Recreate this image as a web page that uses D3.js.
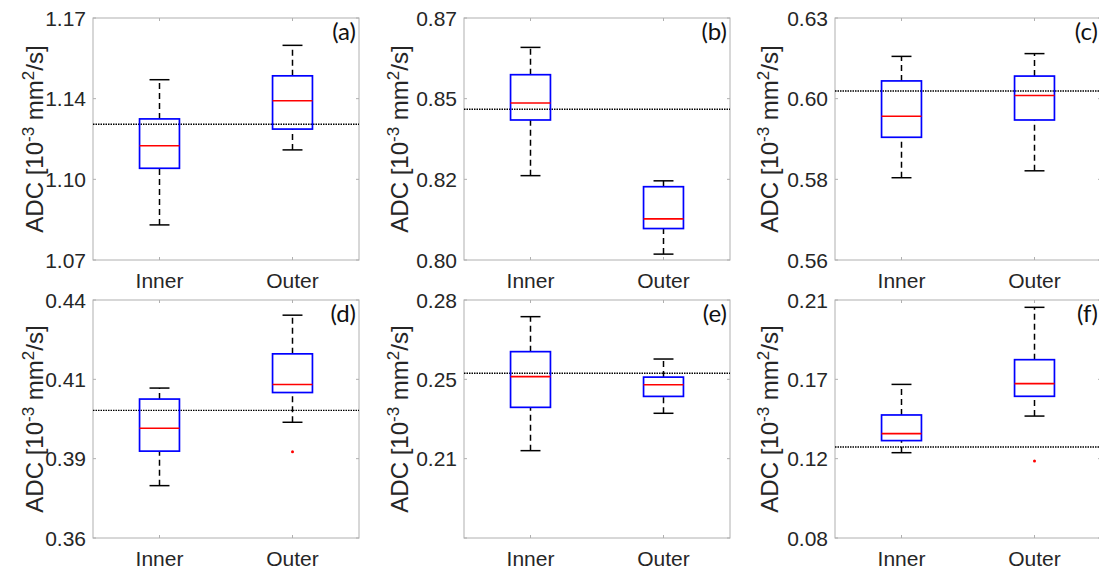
<!DOCTYPE html>
<html>
<head>
<meta charset="utf-8">
<script src="https://cdn.jsdelivr.net/npm/d3@7"></script>
<style>
  body { margin: 0; background: #fff; }
  svg { display: block; }
  .tick-label { font-family: "Liberation Sans", Arial, sans-serif; font-size: 21px; fill: #262626; }
  .y-title { font-family: "Liberation Sans", Arial, sans-serif; font-size: 24px; fill: #262626; }
  .panel-tag { font-family: Lato, "Open Sans", sans-serif; font-size: 24px; fill: #111; }
</style>
</head>
<body>
<svg width="1099" height="571"></svg>
<script>
// values
const panelTags = ["(a)", "(b)", "(c)", "(d)", "(e)", "(f)"];
const categories = ["Inner", "Outer"];

// [lower whisker, q1, median, q3, upper whisker]
const innerStats = [
  [1.0845, 1.1079, 1.1172, 1.1283, 1.1445],
  [0.8244, 0.8405, 0.8454, 0.8536, 0.8615],
  [0.5838, 0.5955, 0.6016, 0.6118, 0.6189],
  [0.3776, 0.3892, 0.3969, 0.4067, 0.4104],
  [0.2167, 0.2349, 0.2478, 0.2583, 0.2730],
  [0.1266, 0.1332, 0.1370, 0.1472, 0.1639]
];
const outerStats = [
  [1.1155, 1.1241, 1.1358, 1.1461, 1.1587],
  [0.8017, 0.8091, 0.8119, 0.8212, 0.8229],
  [0.5858, 0.6005, 0.6076, 0.6132, 0.6197],
  [0.3989, 0.4089, 0.4116, 0.4219, 0.4349],
  [0.2324, 0.2395, 0.2444, 0.2476, 0.2552],
  [0.1466, 0.1574, 0.1643, 0.1774, 0.2060]
];
const innerOutliers = [[], [], [], [], [], []];
const outerOutliers = [[], [], [], [0.389], [], [0.1221]];
const referenceLine = [1.1261, 0.8436, 0.6089, 0.4029, 0.2492, 0.1297];

const yDomains = [
  [1.07, 1.17], [0.80, 0.87], [0.56, 0.63],
  [0.36, 0.44], [0.18, 0.28], [0.08, 0.21]
];
const yTickLabels = [
  ["1.07", "1.10", "1.14", "1.17"],
  ["0.80", "0.82", "0.85", "0.87"],
  ["0.56", "0.58", "0.60", "0.63"],
  ["0.36", "0.39", "0.41", "0.44"],
  ["", "0.21", "0.25", "0.28"],
  ["0.08", "0.12", "0.17", "0.21"]
];

// layout
const plotLeft = [93, 464, 835];
const titleX = [43, 408, 778];
const plotTop = [18, 300];
const plotBottom = [260, 538];
const plotW = 266;
const boxW = 0.3, capW = 0.15;
const axisColor = "#b0b0b0";

const svg = d3.select("svg");
svg.append("rect").attr("width", 1099).attr("height", 571).attr("fill", "#fff");

panelTags.forEach((tag, i) => {
  const col = i % 3, row = Math.floor(i / 3);
  const left = plotLeft[col], top = plotTop[row], bottom = plotBottom[row];
  const g = svg.append("g");

  const x = d3.scaleLinear().domain([0.5, 2.5]).range([left, left + plotW]);
  const [y0, y1] = yDomains[i];
  const y = d3.scaleLinear().domain([y0, y1]).range([bottom, top]);
  const tickVals = d3.range(4).map(k => y0 + k * (y1 - y0) / 3);
  const xPos = categories.map((c, k) => k + 1);

  // frame
  g.append("rect")
    .attr("x", left).attr("y", top)
    .attr("width", plotW).attr("height", bottom - top)
    .attr("fill", "none").attr("stroke", axisColor).attr("stroke-width", 1);

  // inward ticks
  const tl = 3;
  tickVals.forEach(v => {
    g.append("line").attr("x1", left).attr("x2", left + tl)
      .attr("y1", y(v)).attr("y2", y(v)).attr("stroke", axisColor);
    g.append("line").attr("x1", left + plotW).attr("x2", left + plotW - tl)
      .attr("y1", y(v)).attr("y2", y(v)).attr("stroke", axisColor);
  });
  xPos.forEach(p => {
    g.append("line").attr("x1", x(p)).attr("x2", x(p))
      .attr("y1", bottom).attr("y2", bottom - tl).attr("stroke", axisColor);
    g.append("line").attr("x1", x(p)).attr("x2", x(p))
      .attr("y1", top).attr("y2", top + tl).attr("stroke", axisColor);
  });

  // tick labels
  g.selectAll(".ylab").data(tickVals).enter().append("text")
    .attr("class", "tick-label")
    .attr("x", left - 7).attr("y", d => y(d))
    .attr("dy", "0.36em").attr("text-anchor", "end")
    .text((d, k) => yTickLabels[i][k]);
  g.selectAll(".xlab").data(categories).enter().append("text")
    .attr("class", "tick-label")
    .attr("x", (d, k) => x(xPos[k])).attr("y", bottom + 28)
    .attr("text-anchor", "middle")
    .text(d => d);

  // y title
  const t = g.append("text").attr("class", "y-title")
    .attr("transform", `translate(${titleX[col]},${(top + bottom) / 2}) rotate(-90)`)
    .attr("text-anchor", "middle");
  t.append("tspan").text("ADC [10");
  t.append("tspan").attr("dy", -9).attr("font-size", 17).text("-3");
  t.append("tspan").attr("dy", 9).text(" mm");
  t.append("tspan").attr("dy", -9).attr("font-size", 17).text("2");
  t.append("tspan").attr("dy", 9).text("/s]");

  // reference line
  g.append("line")
    .attr("x1", left).attr("x2", left + plotW)
    .attr("y1", y(referenceLine[i])).attr("y2", y(referenceLine[i]))
    .attr("stroke", "#000").attr("stroke-width", 1.4)
    .attr("stroke-dasharray", "1.5 1");

  // boxes
  [innerStats[i], outerStats[i]].forEach((s, k) => {
    const p = xPos[k];
    const [lo, q1, med, q3, hi] = s;
    // whiskers
    [[lo, q1], [q3, hi]].forEach(([a, b]) => {
      g.append("line").attr("x1", x(p)).attr("x2", x(p))
        .attr("y1", y(a)).attr("y2", y(b))
        .attr("stroke", "#000").attr("stroke-width", 1.5)
        .attr("stroke-dasharray", "6 4");
    });
    [lo, hi].forEach(v => {
      g.append("line").attr("x1", x(p - capW / 2)).attr("x2", x(p + capW / 2))
        .attr("y1", y(v)).attr("y2", y(v))
        .attr("stroke", "#000").attr("stroke-width", 1.5);
    });
    g.append("rect")
      .attr("x", x(p - boxW / 2)).attr("y", y(q3))
      .attr("width", x(p + boxW / 2) - x(p - boxW / 2))
      .attr("height", y(q1) - y(q3))
      .attr("fill", "none").attr("stroke", "#0000ff").attr("stroke-width", 1.7);
    g.append("line").attr("x1", x(p - boxW / 2)).attr("x2", x(p + boxW / 2))
      .attr("y1", y(med)).attr("y2", y(med))
      .attr("stroke", "#ff0000").attr("stroke-width", 1.6);
  });

  // outliers
  [innerOutliers[i], outerOutliers[i]].forEach((arr, k) => {
    g.selectAll(null).data(arr).enter().append("circle")
      .attr("cx", x(xPos[k])).attr("cy", d => y(d))
      .attr("r", 1.5).attr("fill", "#ff0000");
  });

  // panel tag
  g.append("text").attr("class", "panel-tag")
    .attr("x", left + plotW - 3).attr("y", top + 22)
    .attr("text-anchor", "end").text(tag);
});
</script>
</body>
</html>
